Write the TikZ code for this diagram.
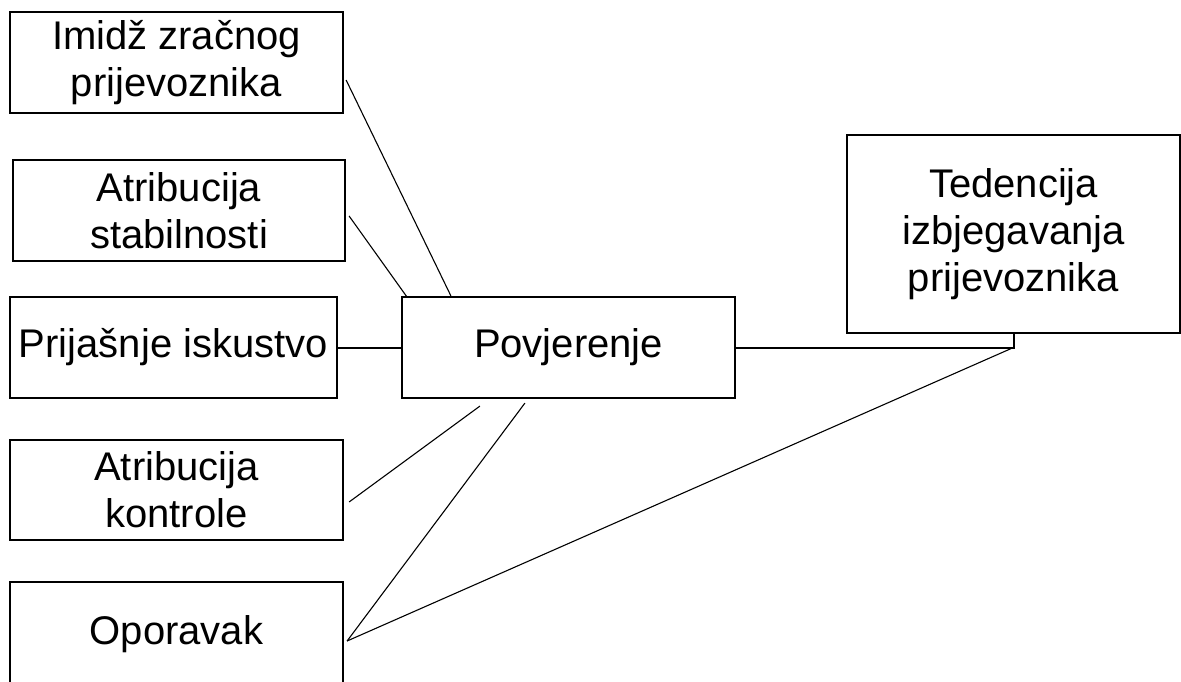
\documentclass[tikz,border=0pt]{standalone}
\usepackage{fontspec}
\setmainfont{Liberation Sans}
\usetikzlibrary{calc}
\begin{document}
\begin{tikzpicture}[x=1pt,y=-1pt,
  box/.style={draw=black,line width=2.2pt,rectangle,inner sep=0pt,align=center,
    font=\fontsize{40}{47}\selectfont},
  thin/.style={line width=1.1pt},
  mid/.style={line width=2pt}]
\useasboundingbox (0,0) rectangle (1181,682);
\clip (0,0) rectangle (1181,682);
\node[box,minimum width=333pt,minimum height=101pt] (imidz) at (176.5,62.5) {Imidž zračnog\\prijevoznika};
\node[box,minimum width=332pt,minimum height=101pt] (stab) at (179,210.5) {Atribucija\\stabilnosti};
\node[box,minimum width=327pt,minimum height=101pt] (prij) at (173.5,347.5) {Prijašnje iskustvo};
\node[box,minimum width=333pt,minimum height=100pt] (kontr) at (176.5,490) {Atribucija\\kontrole};
\node[box,minimum width=333pt,minimum height=104pt] (opor) at (176.5,634) {Oporavak};
\node[box,minimum width=333pt,minimum height=101pt] (povj) at (568.5,347.5) {Povjerenje};
\node[box,minimum width=333pt,minimum height=198pt] (ted) at (1013.5,234) {Tedencija\\izbjegavanja\\prijevoznika};
\coordinate (j) at (ted.south |- povj.east);
\draw[mid] (prij.east) -- (povj.west);
\draw[mid] (povj.east) -- (j) -- (ted.south);
\draw[thin] ($(imidz.east)+(2,17.5)$) -- ($(povj.north west)+(50,0)$);
\draw[thin] ($(stab.east)+(3,5.5)$) -- ($(povj.north west)+(6,1)$);
\draw[thin] ($(kontr.east)+(5,12)$) -- ($(povj.south west)+(79,7)$);
\draw[thin] ($(opor.east)+(3,7)$) -- ($(povj.south west)+(124,4)$);
\draw[thin] ($(opor.east)+(3,7)$) -- (j);
\end{tikzpicture}
\end{document}
